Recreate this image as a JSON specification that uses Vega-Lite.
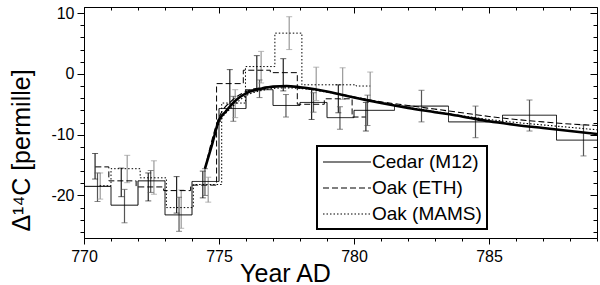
{
  "$schema": "https://vega.github.io/schema/vega-lite/v6.json",
  "width": 513,
  "height": 231,
  "autosize": "none",
  "padding": {"left": 84, "top": 7, "right": 3, "bottom": 47},
  "background": "white",
  "config": {
    "view": {"stroke": "black", "strokeWidth": 1},
    "font": "Liberation Sans",
    "axis": {
      "grid": false,
      "domainColor": "black",
      "tickColor": "black",
      "labelColor": "black",
      "titleColor": "black",
      "labelFont": "Liberation Sans",
      "titleFont": "Liberation Sans",
      "titleFontWeight": "normal",
      "labelFontSize": 16,
      "titleFontSize": 25
    },
    "legend": {
      "labelFont": "Liberation Sans",
      "labelFontSize": 19,
      "labelColor": "black"
    }
  },
  "datasets": {
    "steps": [
      {"s": "Cedar (M12)", "x": 770, "v": -18.5},
      {"s": "Cedar (M12)", "x": 771, "v": -21.6},
      {"s": "Cedar (M12)", "x": 772, "v": -17.6},
      {"s": "Cedar (M12)", "x": 773, "v": -23.2},
      {"s": "Cedar (M12)", "x": 774, "v": -17.7},
      {"s": "Cedar (M12)", "x": 775, "v": -5.7},
      {"s": "Cedar (M12)", "x": 776, "v": -2.6},
      {"s": "Cedar (M12)", "x": 777, "v": -5.2},
      {"s": "Cedar (M12)", "x": 778, "v": -4.7},
      {"s": "Cedar (M12)", "x": 779, "v": -7.2},
      {"s": "Cedar (M12)", "x": 780, "v": -6.0},
      {"s": "Cedar (M12)", "x": 781.5, "v": -5.3},
      {"s": "Cedar (M12)", "x": 783.5, "v": -7.9},
      {"s": "Cedar (M12)", "x": 785.5, "v": -6.8},
      {"s": "Cedar (M12)", "x": 787.5, "v": -10.9},
      {"s": "Cedar (M12)", "x": 789, "v": -10.9},
      {"s": "Oak (ETH)", "x": 770.42, "v": -15.3},
      {"s": "Oak (ETH)", "x": 770.92, "v": -17.6},
      {"s": "Oak (ETH)", "x": 771.93, "v": -18.6},
      {"s": "Oak (ETH)", "x": 772.95, "v": -19.2},
      {"s": "Oak (ETH)", "x": 773.95, "v": -18.3},
      {"s": "Oak (ETH)", "x": 774.91, "v": -1.6},
      {"s": "Oak (ETH)", "x": 775.9, "v": 0.6},
      {"s": "Oak (ETH)", "x": 776.9, "v": 0.2},
      {"s": "Oak (ETH)", "x": 777.9, "v": -5.0},
      {"s": "Oak (ETH)", "x": 778.9, "v": -4.1},
      {"s": "Oak (ETH)", "x": 779.93, "v": -7.1},
      {"s": "Oak (ETH)", "x": 780.43, "v": -7.1},
      {"s": "Oak (MAMS)", "x": 770.58, "v": -18.4},
      {"s": "Oak (MAMS)", "x": 771.0, "v": -15.6},
      {"s": "Oak (MAMS)", "x": 772.08, "v": -17.1},
      {"s": "Oak (MAMS)", "x": 773.05, "v": -22.0},
      {"s": "Oak (MAMS)", "x": 774.05, "v": -18.2},
      {"s": "Oak (MAMS)", "x": 775.1, "v": -4.8},
      {"s": "Oak (MAMS)", "x": 775.98, "v": 1.2},
      {"s": "Oak (MAMS)", "x": 777.07, "v": 6.7},
      {"s": "Oak (MAMS)", "x": 778.07, "v": -1.8},
      {"s": "Oak (MAMS)", "x": 779.07, "v": -1.8},
      {"s": "Oak (MAMS)", "x": 780.08, "v": -2.0},
      {"s": "Oak (MAMS)", "x": 780.6, "v": -2.0}
    ],
    "bars": [
      {"s": "Cedar (M12)", "bx": 770.5, "lo": -21.0, "hi": -16.3},
      {"s": "Cedar (M12)", "bx": 771.5, "lo": -24.5, "hi": -19.0},
      {"s": "Cedar (M12)", "bx": 772.47, "lo": -19.5, "hi": -15.9},
      {"s": "Cedar (M12)", "bx": 773.52, "lo": -25.9, "hi": -20.3},
      {"s": "Cedar (M12)", "bx": 774.48, "lo": -20.0, "hi": -15.6},
      {"s": "Cedar (M12)", "bx": 775.53, "lo": -7.8, "hi": -3.7},
      {"s": "Cedar (M12)", "bx": 776.5, "lo": -3.9, "hi": -1.0},
      {"s": "Cedar (M12)", "bx": 777.48, "lo": -7.1, "hi": -3.4},
      {"s": "Cedar (M12)", "bx": 778.5, "lo": -6.3, "hi": -3.1},
      {"s": "Cedar (M12)", "bx": 779.48, "lo": -9.1, "hi": -5.4},
      {"s": "Cedar (M12)", "bx": 780.5, "lo": -8.5, "hi": -3.5},
      {"s": "Cedar (M12)", "bx": 782.5, "lo": -7.9, "hi": -2.7},
      {"s": "Cedar (M12)", "bx": 784.5, "lo": -10.5, "hi": -5.3},
      {"s": "Cedar (M12)", "bx": 786.5, "lo": -9.4, "hi": -4.3},
      {"s": "Cedar (M12)", "bx": 788.5, "lo": -13.5, "hi": -8.4},
      {"s": "Oak (ETH)", "bx": 770.41, "lo": -17.3, "hi": -13.1},
      {"s": "Oak (ETH)", "bx": 771.38, "lo": -20.2, "hi": -15.5},
      {"s": "Oak (ETH)", "bx": 772.38, "lo": -20.9, "hi": -16.3},
      {"s": "Oak (ETH)", "bx": 773.43, "lo": -22.9, "hi": -16.9},
      {"s": "Oak (ETH)", "bx": 774.4, "lo": -20.4, "hi": -16.0},
      {"s": "Oak (ETH)", "bx": 775.4, "lo": -5.0, "hi": 0.7},
      {"s": "Oak (ETH)", "bx": 776.4, "lo": -2.5, "hi": 3.0},
      {"s": "Oak (ETH)", "bx": 777.38, "lo": -2.8, "hi": 2.5},
      {"s": "Oak (ETH)", "bx": 778.43, "lo": -7.5, "hi": -2.5},
      {"s": "Oak (ETH)", "bx": 779.42, "lo": -6.4, "hi": -1.8},
      {"s": "Oak (ETH)", "bx": 780.44, "lo": -9.4, "hi": -4.7},
      {"s": "Oak (MAMS)", "bx": 770.6, "lo": -20.6, "hi": -16.3},
      {"s": "Oak (MAMS)", "bx": 771.6, "lo": -17.9, "hi": -13.4},
      {"s": "Oak (MAMS)", "bx": 772.59, "lo": -19.8, "hi": -14.3},
      {"s": "Oak (MAMS)", "bx": 773.6, "lo": -25.4, "hi": -19.1},
      {"s": "Oak (MAMS)", "bx": 774.6, "lo": -21.1, "hi": -17.0},
      {"s": "Oak (MAMS)", "bx": 775.6, "lo": -7.2, "hi": -2.6},
      {"s": "Oak (MAMS)", "bx": 776.56, "lo": -1.5, "hi": 3.7},
      {"s": "Oak (MAMS)", "bx": 777.6, "lo": 4.0, "hi": 9.4},
      {"s": "Oak (MAMS)", "bx": 778.6, "lo": -4.4, "hi": 1.1},
      {"s": "Oak (MAMS)", "bx": 779.58, "lo": -4.2, "hi": 1.0},
      {"s": "Oak (MAMS)", "bx": 780.6, "lo": -4.5, "hi": 0.3}
    ],
    "fits": [
      {"s": "Cedar (M12)", "x": 774.48, "v": -15.6},
      {"s": "Cedar (M12)", "x": 774.75, "v": -11.5},
      {"s": "Cedar (M12)", "x": 775.0, "v": -7.6},
      {"s": "Cedar (M12)", "x": 775.25, "v": -6.2},
      {"s": "Cedar (M12)", "x": 775.5, "v": -4.9},
      {"s": "Cedar (M12)", "x": 775.75, "v": -3.9},
      {"s": "Cedar (M12)", "x": 776.0, "v": -3.2},
      {"s": "Cedar (M12)", "x": 776.5, "v": -2.5},
      {"s": "Cedar (M12)", "x": 777.0, "v": -2.1},
      {"s": "Cedar (M12)", "x": 777.5, "v": -2.0},
      {"s": "Cedar (M12)", "x": 778.0, "v": -2.2},
      {"s": "Cedar (M12)", "x": 778.5, "v": -2.5},
      {"s": "Cedar (M12)", "x": 779.0, "v": -2.9},
      {"s": "Cedar (M12)", "x": 779.5, "v": -3.4},
      {"s": "Cedar (M12)", "x": 780.0, "v": -3.9},
      {"s": "Cedar (M12)", "x": 781.0, "v": -4.8},
      {"s": "Cedar (M12)", "x": 782.0, "v": -5.6},
      {"s": "Cedar (M12)", "x": 783.0, "v": -6.3},
      {"s": "Cedar (M12)", "x": 784.0, "v": -7.0},
      {"s": "Cedar (M12)", "x": 785.0, "v": -7.8},
      {"s": "Cedar (M12)", "x": 786.0, "v": -8.4},
      {"s": "Cedar (M12)", "x": 787.0, "v": -8.9},
      {"s": "Cedar (M12)", "x": 788.0, "v": -9.4},
      {"s": "Cedar (M12)", "x": 789.0, "v": -9.9},
      {"s": "Oak (ETH)", "x": 774.48, "v": -15.6},
      {"s": "Oak (ETH)", "x": 775.0, "v": -7.2},
      {"s": "Oak (ETH)", "x": 775.5, "v": -4.3},
      {"s": "Oak (ETH)", "x": 776.0, "v": -2.9},
      {"s": "Oak (ETH)", "x": 776.5, "v": -2.3},
      {"s": "Oak (ETH)", "x": 777.0, "v": -2.1},
      {"s": "Oak (ETH)", "x": 777.5, "v": -2.1},
      {"s": "Oak (ETH)", "x": 778.0, "v": -2.3},
      {"s": "Oak (ETH)", "x": 779.0, "v": -2.9},
      {"s": "Oak (ETH)", "x": 780.0, "v": -3.8},
      {"s": "Oak (ETH)", "x": 781.0, "v": -4.6},
      {"s": "Oak (ETH)", "x": 782.0, "v": -5.2},
      {"s": "Oak (ETH)", "x": 783.0, "v": -5.8},
      {"s": "Oak (ETH)", "x": 784.0, "v": -6.4},
      {"s": "Oak (ETH)", "x": 785.0, "v": -7.0},
      {"s": "Oak (ETH)", "x": 786.0, "v": -7.5},
      {"s": "Oak (ETH)", "x": 787.0, "v": -7.9},
      {"s": "Oak (ETH)", "x": 788.0, "v": -8.25},
      {"s": "Oak (ETH)", "x": 789.0, "v": -8.5},
      {"s": "Oak (MAMS)", "x": 774.48, "v": -15.6},
      {"s": "Oak (MAMS)", "x": 775.0, "v": -8.2},
      {"s": "Oak (MAMS)", "x": 775.5, "v": -5.4},
      {"s": "Oak (MAMS)", "x": 776.0, "v": -3.6},
      {"s": "Oak (MAMS)", "x": 776.5, "v": -2.8},
      {"s": "Oak (MAMS)", "x": 777.0, "v": -2.4},
      {"s": "Oak (MAMS)", "x": 777.5, "v": -2.3},
      {"s": "Oak (MAMS)", "x": 778.0, "v": -2.4},
      {"s": "Oak (MAMS)", "x": 779.0, "v": -3.0},
      {"s": "Oak (MAMS)", "x": 780.0, "v": -3.8},
      {"s": "Oak (MAMS)", "x": 781.0, "v": -4.7},
      {"s": "Oak (MAMS)", "x": 782.0, "v": -5.5},
      {"s": "Oak (MAMS)", "x": 783.0, "v": -6.2},
      {"s": "Oak (MAMS)", "x": 784.0, "v": -6.9},
      {"s": "Oak (MAMS)", "x": 785.0, "v": -7.5},
      {"s": "Oak (MAMS)", "x": 786.0, "v": -8.0},
      {"s": "Oak (MAMS)", "x": 787.0, "v": -8.4},
      {"s": "Oak (MAMS)", "x": 788.0, "v": -8.8},
      {"s": "Oak (MAMS)", "x": 789.0, "v": -9.2}
    ]
  },
  "encoding": {
    "x": {"type": "quantitative", "scale": {"domain": [770, 789], "nice": false, "zero": false}},
    "y": {"type": "quantitative", "scale": {"domain": [-27, 11], "nice": false, "zero": false}}
  },
  "layer": [
    {
      "data": {"name": "bars"},
      "mark": {"type": "rule", "strokeWidth": 1.2, "clip": true},
      "encoding": {
        "x": {"field": "bx", "type": "quantitative", "axis": null},
        "y": {"field": "lo", "type": "quantitative", "axis": null},
        "y2": {"field": "hi"},
        "color": {"field": "s", "type": "nominal", "scale": {"domain": ["Oak (MAMS)", "Cedar (M12)", "Oak (ETH)"], "range": ["#999999", "#555555", "#222222"]}, "legend": null}
      }
    },
    {
      "data": {"name": "bars"},
      "mark": {"type": "tick", "orient": "horizontal", "size": 6, "thickness": 1, "clip": true},
      "encoding": {
        "x": {"field": "bx", "type": "quantitative", "axis": null},
        "y": {"field": "lo", "type": "quantitative", "axis": null},
        "color": {"field": "s", "type": "nominal", "legend": null}
      }
    },
    {
      "data": {"name": "bars"},
      "mark": {"type": "tick", "orient": "horizontal", "size": 6, "thickness": 1, "clip": true},
      "encoding": {
        "x": {"field": "bx", "type": "quantitative", "axis": null},
        "y": {"field": "hi", "type": "quantitative", "axis": null},
        "color": {"field": "s", "type": "nominal", "legend": null}
      }
    },
    {
      "data": {"name": "fits"},
      "transform": [{"filter": "datum.s === 'Oak (ETH)'"}],
      "mark": {"type": "line", "interpolate": "monotone", "color": "black", "strokeWidth": 1.1, "strokeDash": [6, 3], "clip": true},
      "encoding": {
        "x": {"field": "x", "type": "quantitative", "axis": null},
        "y": {"field": "v", "type": "quantitative", "axis": null}
      }
    },
    {
      "data": {"name": "fits"},
      "transform": [{"filter": "datum.s === 'Oak (MAMS)'"}],
      "mark": {"type": "line", "interpolate": "monotone", "color": "black", "strokeWidth": 1.1, "strokeDash": [1.5, 2], "clip": true},
      "encoding": {
        "x": {"field": "x", "type": "quantitative", "axis": null},
        "y": {"field": "v", "type": "quantitative", "axis": null}
      }
    },
    {
      "data": {"name": "fits"},
      "transform": [{"filter": "datum.s === 'Cedar (M12)'"}],
      "mark": {"type": "line", "interpolate": "monotone", "color": "black", "strokeWidth": 2.6, "clip": true},
      "encoding": {
        "x": {"field": "x", "type": "quantitative", "axis": null},
        "y": {"field": "v", "type": "quantitative", "axis": null}
      }
    },
    {
      "data": {"name": "steps"},
      "mark": {"type": "line", "interpolate": "step-after", "color": "black", "strokeWidth": 1, "clip": true},
      "encoding": {
        "x": {
          "field": "x", "type": "quantitative",
          "axis": {
            "orient": "bottom",
            "values": [770, 771, 772, 773, 774, 775, 776, 777, 778, 779, 780, 781, 782, 783, 784, 785, 786, 787, 788, 789],
            "labelExpr": "datum.value % 5 === 0 ? '' + datum.value : ''",
            "tickSize": {"condition": {"test": "datum.value % 5 === 0", "value": 6}, "value": 3},
            "labelPadding": 4,
            "labelFlush": false,
            "labelOverlap": false,
            "title": "Year AD",
            "titleX": 201,
            "titleY": 43,
            "titleBaseline": "alphabetic",
            "titleAlign": "center"
          }
        },
        "y": {
          "field": "v", "type": "quantitative",
          "axis": {
            "orient": "left",
            "values": [-26, -24, -22, -20, -18, -16, -14, -12, -10, -8, -6, -4, -2, 0, 2, 4, 6, 8, 10],
            "labelExpr": "datum.value % 10 === 0 ? '' + datum.value : ''",
            "tickSize": {"condition": {"test": "datum.value % 10 === 0", "value": 7}, "value": 4},
            "labelPadding": 3,
            "labelFlush": false,
            "labelOverlap": false,
            "title": "Δ¹⁴C [permille]",
            "titleX": -50,
            "titleY": 143,
            "titleAlign": "center"
          }
        },
        "strokeDash": {
          "field": "s", "type": "nominal",
          "scale": {"domain": ["Cedar (M12)", "Oak (ETH)", "Oak (MAMS)"], "range": [[1, 0], [6, 3], [1.5, 2]]},
          "legend": {
            "title": null,
            "orient": "none",
            "legendX": 233,
            "legendY": 139,
            "symbolType": "M-2.4,0H2.4",
            "symbolSize": 400,
            "symbolOffset": 14,
            "symbolStrokeWidth": 1.2,
            "symbolStrokeColor": "black",
            "symbolFillColor": "transparent",
            "labelOffset": 14,
            "rowPadding": 5,
            "padding": 5,
            "strokeColor": "black",
            "fillColor": "white",
            "encode": {"legend": {"update": {"strokeWidth": {"value": 2}}}}
          }
        }
      }
    },
    {
      "data": {"name": "steps"},
      "mark": {"type": "point", "opacity": 0},
      "encoding": {
        "x": {
          "field": "x", "type": "quantitative",
          "axis": {
            "orient": "top",
            "values": [770, 771, 772, 773, 774, 775, 776, 777, 778, 779, 780, 781, 782, 783, 784, 785, 786, 787, 788, 789],
            "labels": false,
            "domain": false,
            "tickSize": {"condition": {"test": "datum.value % 5 === 0", "value": -6}, "value": -3},
            "title": null
          }
        },
        "y": {
          "field": "v", "type": "quantitative",
          "axis": {
            "orient": "right",
            "values": [-26, -24, -22, -20, -18, -16, -14, -12, -10, -8, -6, -4, -2, 0, 2, 4, 6, 8, 10],
            "labels": false,
            "domain": false,
            "tickSize": {"condition": {"test": "datum.value % 10 === 0", "value": -7}, "value": -4},
            "title": null
          }
        }
      }
    }
  ],
  "resolve": {"axis": {"x": "independent", "y": "independent"}}
}
